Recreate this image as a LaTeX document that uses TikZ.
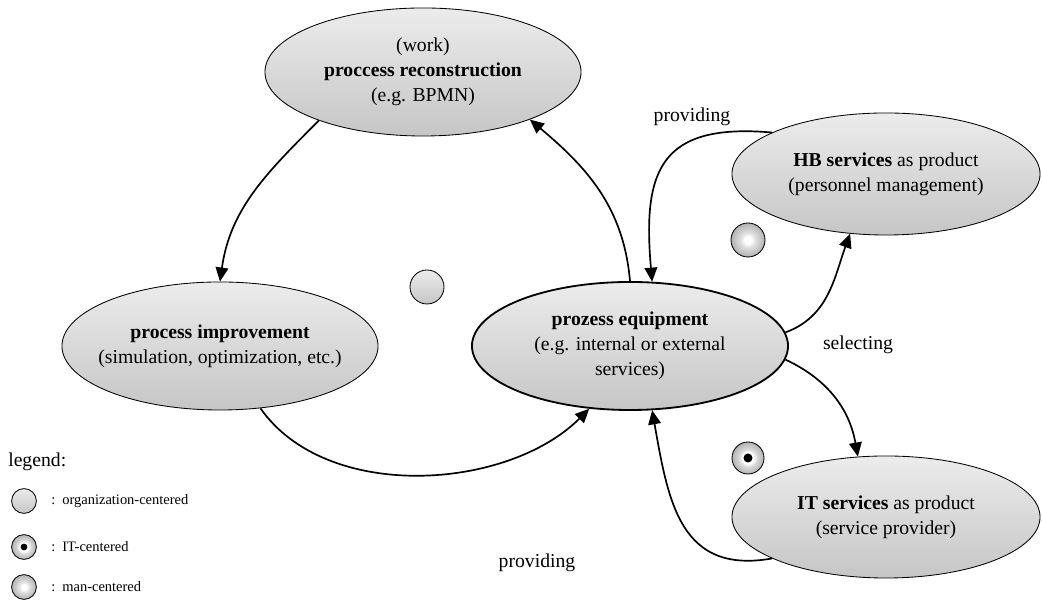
\documentclass[tikz,border=0pt]{standalone}
\usepackage{fontspec}
\setmainfont{Liberation Serif}
\usepackage{tikz}
\usetikzlibrary{shapes.geometric,arrows.meta,positioning}

\newcommand{\mainsize}{\fontsize{14}{17.8}\selectfont}
\newcommand{\legendsize}{\fontsize{10.3}{12}\selectfont}

\pgfdeclareradialshading{manshade}{\pgfpoint{0bp}{0bp}}{color(0bp)=(white); color(5bp)=(white); color(11bp)=(gray!25); color(20bp)=(gray!48); color(25bp)=(gray!60); color(50bp)=(gray!60)}
\pgfdeclareradialshading{itshade}{\pgfpoint{0bp}{0bp}}{color(0bp)=(white); color(9bp)=(white); color(14bp)=(gray!30); color(25bp)=(gray!60); color(50bp)=(gray!60)}

\begin{document}
\begin{tikzpicture}[x=0.025cm,y=0.025cm]

\tikzset{
  activity/.style={ellipse, draw=black, line width=0.6pt,
                  top color=gray!15, bottom color=gray!45,
                  font=\mainsize, align=center, inner sep=0pt, inner xsep=-12pt,
                  minimum width=7.9cm, minimum height=3.2cm},
  product/.style={activity, minimum width=7.7cm, minimum height=3.05cm},
  keyactivity/.style={activity, line width=1.3pt},
  flow/.style={black, line width=1.2pt, -{Triangle[length=10pt, width=9pt]}},
  flowlabel/.style={font=\mainsize, inner sep=1pt},
  orgmark/.style={circle, draw=black, line width=0.6pt,
                  top color=gray!15, bottom color=gray!45, minimum size=0.85cm},
  manmark/.style={circle, draw=black, line width=0.6pt,
                  shading=manshade, minimum size=0.85cm},
  itmark/.style={circle, draw=black, line width=0.6pt,
                  shading=itshade, minimum size=0.8cm,
                  path picture={\fill[black] (path picture bounding box.center) circle (#1);}},
  itmark/.default=3.2pt,
  legendtext/.style={font=\legendsize, anchor=west, inner sep=0pt}
}

\newcommand{\legendrow}[4]{
  \node[#3, minimum size=0.62cm] (#1) at (24,#2) {};
  \node[legendtext] (#1txt) at (51,#2) {:\hspace{5pt}#4};
}

\useasboundingbox (0,0) rectangle (1042,602);

% Cycle
\node[activity] (recon) at (423,530) {(work)\\\textbf{proccess reconstruction}\\(e.g. BPMN)};
\node[activity] (improve) at (220,256) {\textbf{process improvement}\\(simulation, optimization, etc.)};
\node[keyactivity] (equip) at (630,256) {\textbf{prozess equipment}\\(e.g. internal or external\\services)};

% Products
\node[product] (hb) at (886,428) {\textbf{HB services} as product\\(personnel management)};
\node[product] (it) at (886,85) {\textbf{IT services} as product\\(service provider)};

% Markers
\node[orgmark] (orgc) at (427,315) {};
\node[manmark] (manc) at (748,362) {};
\node[itmark] (itc) at (748,144) {};

% Labels
\node[flowlabel] (provhb) at (692,485) {providing};
\node[flowlabel] (selit) at (858,257) {selecting};
\node[flowlabel] (provit) at (537,39) {providing};

% Flows
\draw[flow] (recon.205) to[out=225, in=82] (improve.north);
\draw[flow] (improve.-57) to[out=-55, in=-135, looseness=0.9] (equip.-123);
\draw[flow] (equip.90) to[out=95, in=-40] (recon.-24);

\draw[flow] (hb.160) to[out=175, in=95, looseness=1.5] (equip.71);
\draw[flow] (equip.5) to[out=20, in=-110] (hb.-121);
\draw[flow] (equip.-5) to[out=-25, in=100] (it.115);
\draw[flow] (it.200) to[out=190, in=-80, looseness=1.25] (equip.-71);

% Legend
\node[legendtext, font=\mainsize] (legend) at (8,140) {legend:};
\legendrow{lorg}{101}{orgmark}{organization-centered}
\legendrow{lit}{55}{itmark=2.4pt}{IT-centered}
\legendrow{lman}{15}{manmark}{man-centered}

\end{tikzpicture}
\end{document}
